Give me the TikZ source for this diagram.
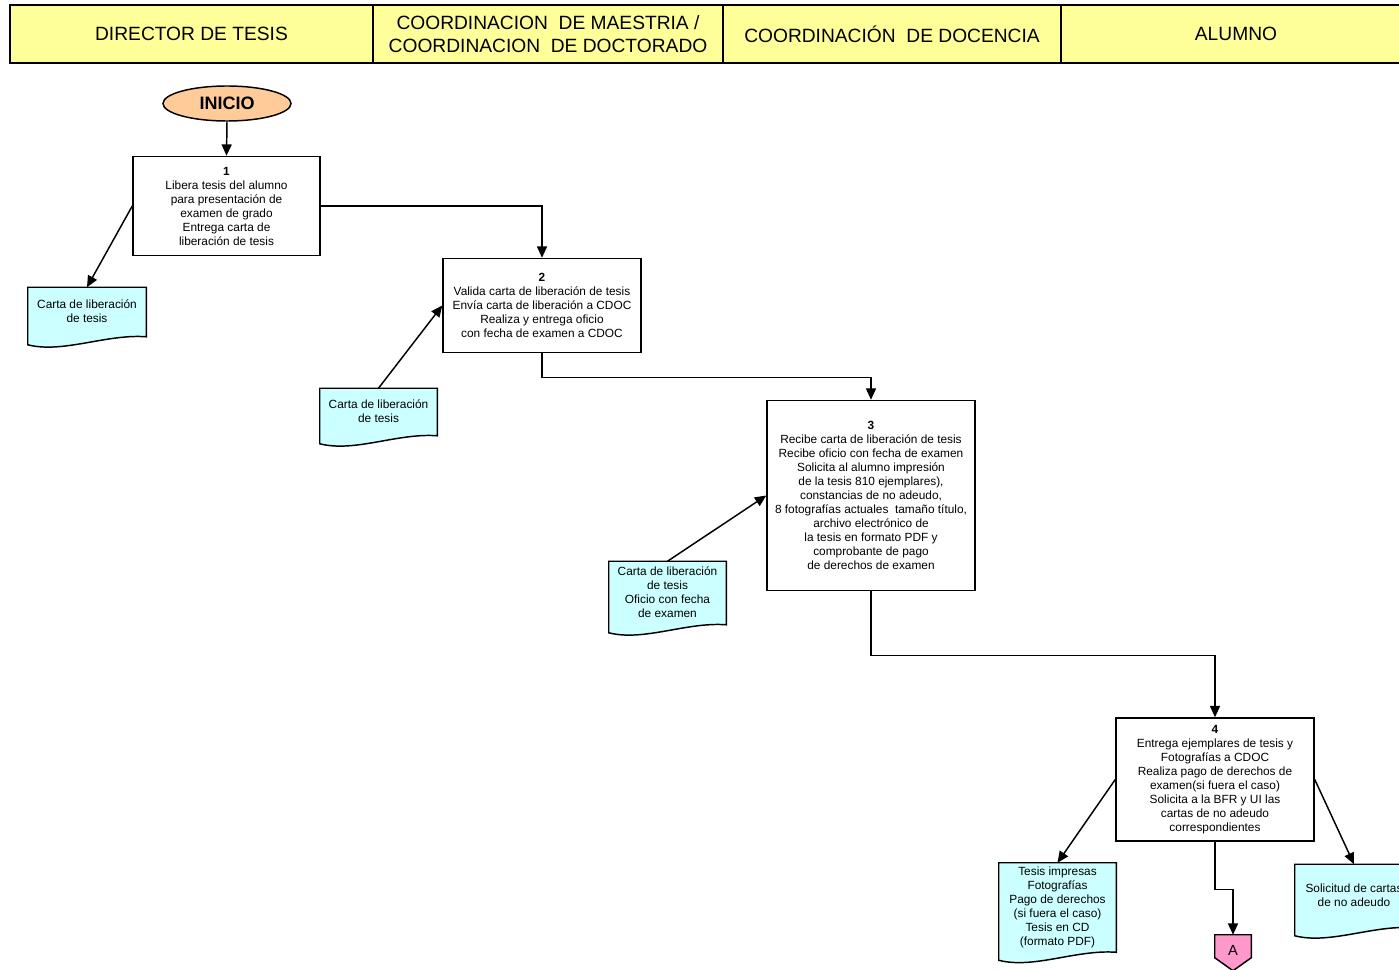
\documentclass[tikz,border=0pt]{standalone}
\usepackage{fontspec}
\setmainfont{Liberation Sans}
\usetikzlibrary{arrows.meta,shapes.geometric,backgrounds,calc}

\definecolor{carril}{HTML}{FFFF99}
\definecolor{documento}{HTML}{CCFFFF}
\definecolor{inicio}{HTML}{FFCC99}
\definecolor{conector}{HTML}{FF99CC}

\tikzset{
  dims/.style 2 args={minimum width=#1*0.75pt, minimum height=#2*0.75pt},
  carril/.style={draw, line width=1.4pt, fill=carril, inner sep=0pt, align=center,
    font=\fontsize{14.4}{17.2}\selectfont},
  caja/.style={draw, line width=1.1pt, fill=white, inner sep=0pt, align=center,
    font=\fontsize{8.9}{10.5}\selectfont},
  docu/.style={inner sep=0pt, align=center, font=\fontsize{8.9}{10.5}\selectfont},
  flecha/.style={line width=1.1pt, -{Triangle[length=8.5pt,width=7.5pt]}},
}

% hoja con borde inferior ondulado
\newcommand{\hoja}[1]{%
  \begin{pgfonlayer}{background}
    \draw[line width=1.1pt, fill=documento] (#1.north west) -- (#1.north east)
      -- ($(#1.south east)+(0,1)$)
      .. controls ($(#1.south east)+(-40,-2)$) and ($(#1.south west)+(35,18)$) .. ($(#1.south west)+(0,9)$)
      -- cycle;
  \end{pgfonlayer}}

\begin{document}
\begin{tikzpicture}[x=0.75pt, y=-0.75pt]
  \useasboundingbox (0,0) rectangle (1399,970);

  % carriles
  \node[carril, dims={363}{58}] (c1) at (191.5, 34) {DIRECTOR DE TESIS};
  \node[carril, dims={350}{58}] (c2) at (548,   34) {COORDINACION\ \ DE MAESTRIA /\\COORDINACION\ \ DE DOCTORADO};
  \node[carril, dims={338}{58}] (c3) at (892,   34) {COORDINACIÓN\ \ DE DOCENCIA};
  \node[carril, dims={350}{58}] (c4) at (1236,  34) {ALUMNO};

  \node[draw, ellipse, line width=1.1pt, fill=inicio, inner sep=0pt, dims={128}{35},
        font=\fontsize{13.5}{15}\selectfont\bfseries] (ini) at (227, 103.5) {INICIO};

  \node[caja, dims={187}{99}]  (b1) at (226.5, 206) {\textbf{1}\\Libera tesis del alumno\\para presentación de\\examen de grado\\Entrega carta de\\liberación de tesis};
  \node[caja, dims={198}{94}]  (b2) at (542,   305.5) {\textbf{2}\\Valida carta de liberación de tesis\\Envía carta de liberación a CDOC\\Realiza y entrega oficio\\con fecha de examen a CDOC};
  \node[caja, dims={208}{190}] (b3) at (871,   495.5) {\textbf{3}\\Recibe carta de liberación de tesis\\Recibe oficio con fecha de examen\\Solicita al alumno impresión\\de la tesis 810 ejemplares),\\constancias de no adeudo,\\8 fotografías actuales\ \ tamaño título,\\archivo electrónico de\\la tesis en formato PDF y\\comprobante de pago\\de derechos de examen};
  \node[caja, dims={198}{123}] (b4) at (1215,  779.5) {\textbf{4}\\Entrega ejemplares de tesis y\\Fotografías a CDOC\\Realiza pago de derechos de\\examen(si fuera el caso)\\Solicita a la BFR y UI las\\cartas de no adeudo\\correspondientes};

  \node[docu, dims={118}{48}] (d1) at (87,     311.5) {Carta de liberación\\de tesis};
  \node[docu, dims={117}{46}] (d2) at (378.5,  411.5) {Carta de liberación\\de tesis};
  \node[docu, dims={117}{62}] (d3) at (667.5,  592.5) {Carta de liberación\\de tesis\\Oficio con fecha\\de examen};
  \node[docu, dims={117}{88}] (d4) at (1057.5, 907) {Tesis impresas\\Fotografías\\Pago de derechos\\(si fuera el caso)\\Tesis en CD\\(formato PDF)};
  \node[docu, dims={118}{62}] (d5) at (1354,   895.5) {Solicitud de cartas\\de no adeudo};
  \foreach \d in {d1,d2,d3,d4,d5} {\hoja{\d}}

  % conector fuera de pagina
  \node[inner sep=0pt, dims={36}{30}, font=\fontsize{11}{12}\selectfont] (A) at (1233, 950) {A};
  \begin{pgfonlayer}{background}
    \draw[line width=1.1pt, fill=conector] (A.north west) -- (A.north east) -- ($(A.north east)+(0,23)$)
      -- ($(A.north)+(0,36)$) -- ($(A.north west)+(0,23)$) -- cycle;
  \end{pgfonlayer}

  \def\rectas {ini.south/b1.north, b1.west/d1.north, d2.north/b2.west,
    d3.north/b3.west, b4.west/d4.north, b4.east/d5.north}  % list elements
  \foreach \u/\v in \rectas
  {  \draw[flecha] (\u) -- (\v);
  }
  \draw[flecha] (b1.east) -| (b2.north);
  \draw[flecha] (b2.south) -- ++(0,24) -| (b3.north);
  \draw[flecha] (b3.south) -- ++(0,64) -| (b4.north);
  \draw[flecha] (b4.south) -- ++(0,48) -| (A.north);
\end{tikzpicture}
\end{document}
